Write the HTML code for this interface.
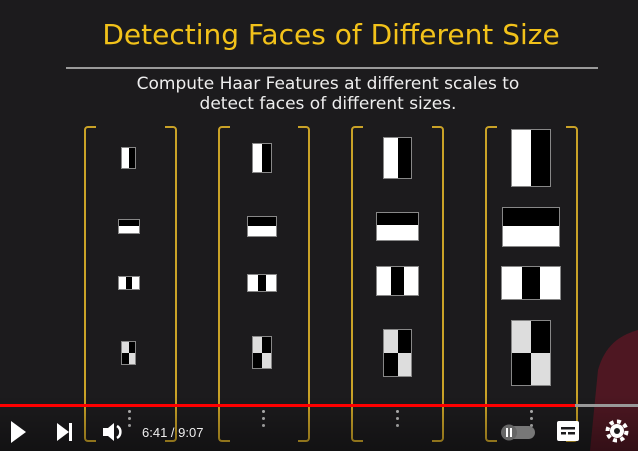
<!DOCTYPE html>
<html><head><meta charset="utf-8">
<style>
*{margin:0;padding:0;box-sizing:border-box}
html,body{width:638px;height:451px;overflow:hidden}
body{background:#1c1b1d;position:relative;font-family:"DejaVu Sans","Liberation Sans",sans-serif}
.abs{position:absolute}
.br{position:absolute;border:2px solid #c9a227;width:12px}
.f{position:absolute;border:1px solid #888;background:#fff;overflow:hidden}
.f div{position:absolute;background:#000}
.dot{position:absolute;width:3px;height:3px;border-radius:50%;background:#bbb}
</style></head><body>
<div class="abs" style="left:0;width:662px;top:18px;text-align:center;color:#f2c21a;font-size:28px;">Detecting Faces of Different Size</div>
<div class="abs" style="left:66px;top:67px;width:532px;height:2px;background:#9a9a9a"></div>
<div class="abs" style="left:0;width:656px;top:74px;text-align:center;color:#eee;font-size:17px;line-height:20px">Compute Haar Features at different scales to<br>detect faces of different sizes.</div>

<div>
<div class="br" style="left:84px;top:126px;height:316px;border-right:none;border-radius:4px 0 0 4px"></div>
<div class="br" style="left:165px;top:126px;height:316px;border-left:none;border-radius:0 4px 4px 0"></div>
</div>
<div>
<div class="br" style="left:218px;top:126px;height:316px;border-right:none;border-radius:4px 0 0 4px"></div>
<div class="br" style="left:298px;top:126px;height:316px;border-left:none;border-radius:0 4px 4px 0"></div>
</div>
<div>
<div class="br" style="left:351px;top:126px;height:316px;border-right:none;border-radius:4px 0 0 4px"></div>
<div class="br" style="left:432px;top:126px;height:316px;border-left:none;border-radius:0 4px 4px 0"></div>
</div>
<div>
<div class="br" style="left:485px;top:126px;height:316px;border-right:none;border-radius:4px 0 0 4px"></div>
<div class="br" style="left:566px;top:126px;height:316px;border-left:none;border-radius:0 4px 4px 0"></div>
</div>

<div class="f" style="left:121px;top:147px;width:15px;height:22px"><div style="right:0;top:0;width:50%;height:100%"></div></div>
<div class="f" style="left:118px;top:219px;width:22px;height:15px"><div style="left:0;top:0;width:100%;height:45%"></div></div>
<div class="f" style="left:118px;top:276px;width:22px;height:14px"><div style="left:34%;top:0;width:32%;height:100%"></div></div>
<div class="f" style="left:121px;top:341px;width:15px;height:24px;background:#ddd"><div style="right:0;top:0;width:50%;height:50%"></div><div style="left:0;bottom:0;width:50%;height:50%"></div></div>
<div class="f" style="left:252px;top:143px;width:20px;height:30px"><div style="right:0;top:0;width:50%;height:100%"></div></div>
<div class="f" style="left:247px;top:216px;width:30px;height:21px"><div style="left:0;top:0;width:100%;height:45%"></div></div>
<div class="f" style="left:247px;top:274px;width:30px;height:18px"><div style="left:34%;top:0;width:32%;height:100%"></div></div>
<div class="f" style="left:252px;top:336px;width:20px;height:33px;background:#ddd"><div style="right:0;top:0;width:50%;height:50%"></div><div style="left:0;bottom:0;width:50%;height:50%"></div></div>
<div class="f" style="left:383px;top:137px;width:29px;height:42px"><div style="right:0;top:0;width:50%;height:100%"></div></div>
<div class="f" style="left:376px;top:212px;width:43px;height:29px"><div style="left:0;top:0;width:100%;height:45%"></div></div>
<div class="f" style="left:376px;top:266px;width:43px;height:30px"><div style="left:34%;top:0;width:32%;height:100%"></div></div>
<div class="f" style="left:383px;top:329px;width:29px;height:48px;background:#ddd"><div style="right:0;top:0;width:50%;height:50%"></div><div style="left:0;bottom:0;width:50%;height:50%"></div></div>
<div class="f" style="left:511px;top:129px;width:40px;height:58px"><div style="right:0;top:0;width:50%;height:100%"></div></div>
<div class="f" style="left:502px;top:207px;width:58px;height:40px"><div style="left:0;top:0;width:100%;height:48%"></div></div>
<div class="f" style="left:501px;top:266px;width:60px;height:34px"><div style="left:34%;top:0;width:32%;height:100%"></div></div>
<div class="f" style="left:511px;top:320px;width:40px;height:66px;background:#ddd"><div style="right:0;top:0;width:50%;height:50%"></div><div style="left:0;bottom:0;width:50%;height:50%"></div></div>

<svg class="abs" style="left:0;top:0" width="638" height="451">
<path d="M638,330 C620,335 605,345 598,370 L590,451 L638,451 Z" fill="#4e1722"/>
</svg>

<div>
<div class="dot" style="left:128px;top:410px"></div><div class="dot" style="left:128px;top:417px"></div><div class="dot" style="left:128px;top:424px"></div>
<div class="dot" style="left:262px;top:410px"></div><div class="dot" style="left:262px;top:417px"></div><div class="dot" style="left:262px;top:424px"></div>
<div class="dot" style="left:396px;top:410px"></div><div class="dot" style="left:396px;top:417px"></div><div class="dot" style="left:396px;top:424px"></div>
<div class="dot" style="left:530px;top:410px"></div><div class="dot" style="left:530px;top:417px"></div><div class="dot" style="left:530px;top:424px"></div>
</div>

<div class="abs" style="left:0;top:395px;width:638px;height:56px;background:linear-gradient(rgba(0,0,0,0),rgba(0,0,0,0.35))"></div>
<div class="abs" style="left:0;top:404px;width:638px;height:3px;background:#999"></div>
<div class="abs" style="left:0;top:404px;width:575px;height:3px;background:#f00"></div>
<svg class="abs" style="left:0;top:415px" width="638" height="34">
<polygon points="11,6 11,28 26,17" fill="#fff"/>
<g><polygon points="57,8 57,26 69,17" fill="#fff"/><rect x="69" y="8" width="3" height="18" fill="#fff"/></g>
<g><polygon points="103,13 108,13 114,8 114,26 108,21 103,21" fill="#fff"/><path d="M117,11 a7,7 0 0 1 0,12" stroke="#fff" stroke-width="2.5" fill="none"/></g>
<g><rect x="502" y="11" width="33" height="13" rx="6.5" fill="#777"/><circle cx="509" cy="17.5" r="8" fill="#666"/><rect x="506" y="13" width="2" height="9" fill="#fff"/><rect x="510" y="13" width="2" height="9" fill="#fff"/></g>
<g><rect x="557" y="6" width="22" height="20" rx="2" fill="#fff"/><rect x="561" y="17" width="5" height="2.5" fill="#1c1b1d"/><rect x="568" y="17" width="7" height="2.5" fill="#1c1b1d"/><rect x="561" y="12" width="14" height="2.5" fill="#1c1b1d"/></g>
<g><circle cx="617" cy="16" r="7" fill="#fff"/><circle cx="617" cy="16" r="9.5" fill="none" stroke="#fff" stroke-width="4" stroke-dasharray="4 3.4"/><circle cx="617" cy="16" r="3" fill="#1c1b1d"/></g>
<text x="142" y="22" fill="#eee" font-family="Liberation Sans, sans-serif" font-size="13">6:41 / 9:07</text>
</svg>
</body></html>
